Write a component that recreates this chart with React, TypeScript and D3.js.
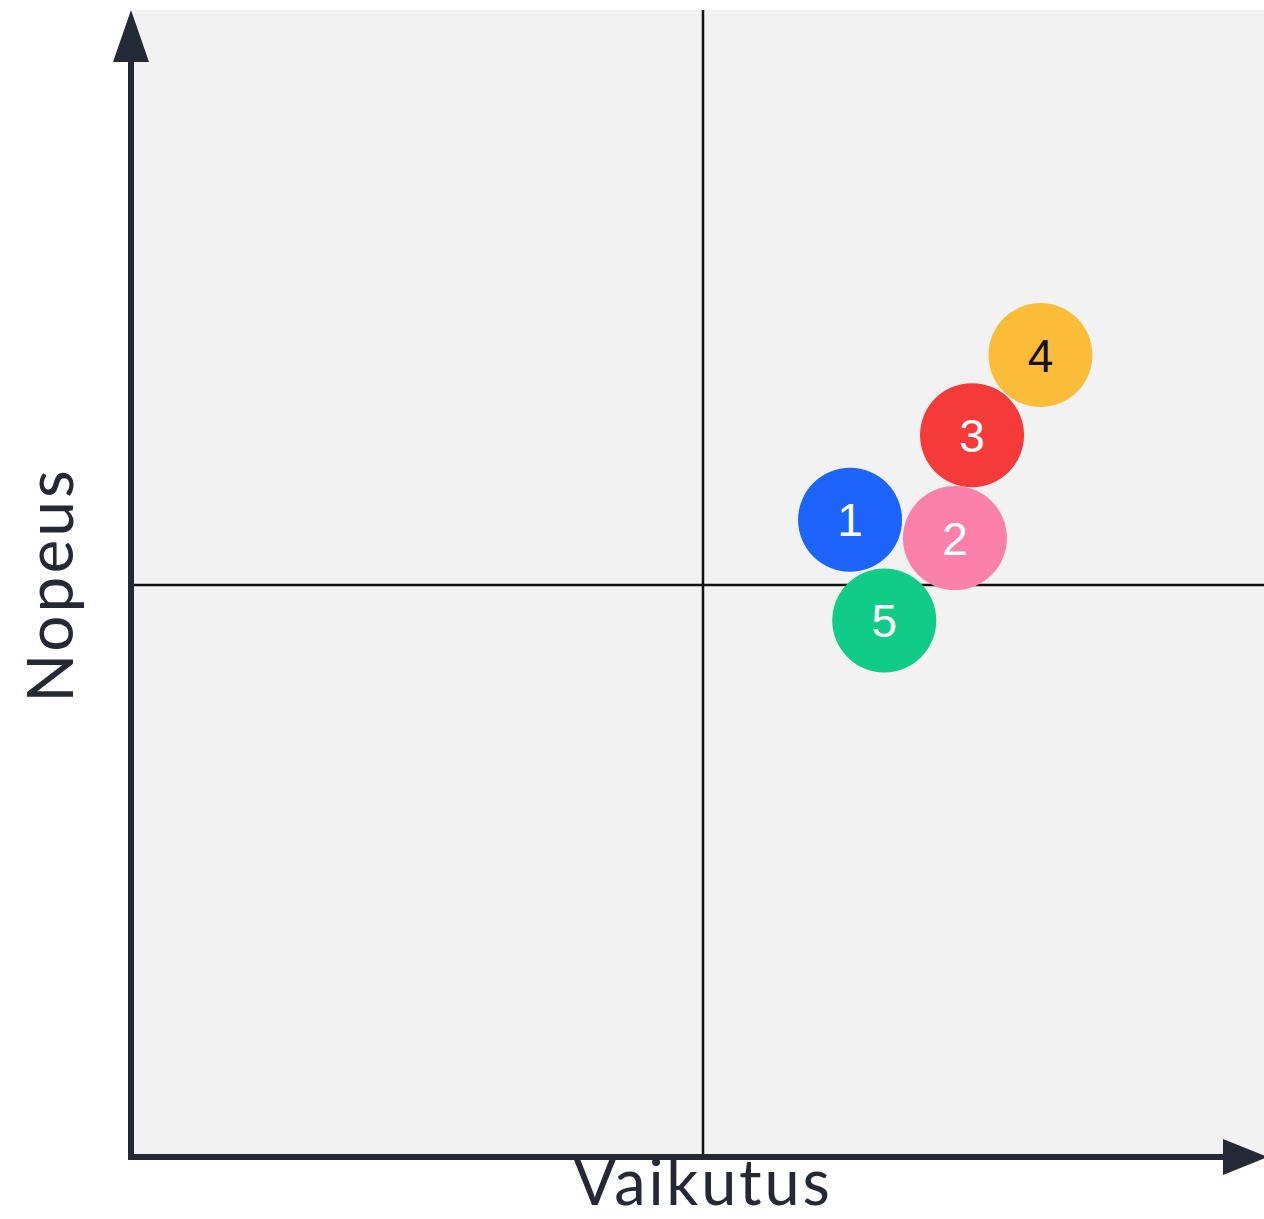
import React from "react";
import * as d3 from "d3";

// items on the impact / speed matrix
const ids = ["1", "2", "3", "4", "5"];
const impact = [6.29, 7.21, 7.36, 7.96, 6.59];
const speed = [5.57, 5.41, 6.31, 7.01, 4.69];
const fills = ["#1c64fa", "#fb80aa", "#f53a3a", "#fbbd39", "#10cc86"];
const textColors = ["#ffffff", "#ffffff", "#ffffff", "#111111", "#ffffff"];

const xLabel = "Vaikutus";
const yLabel = "Nopeus";

const W = 1264;
const H = 1219;
const left = 133;
const bottom = 1157;

export default function App() {
  const x = d3.scaleLinear().domain([0, 10]).range([left, 1273]);
  const y = d3.scaleLinear().domain([0, 10]).range([bottom, 13]);
  const axisColor = "#232a36";
  const r = 52;

  return (
    <svg
      width={W}
      height={H}
      style={{ position: "absolute", left: 0, top: 0, background: "#fff" }}
    >
      <rect x={left} y={10} width={W - left} height={bottom - 10} fill="#f2f2f2" />

      {/* quadrant dividers */}
      <line x1={x(5)} x2={x(5)} y1={10} y2={bottom} stroke="#111" strokeWidth={2.5} />
      <line x1={left} x2={W} y1={y(5)} y2={y(5)} stroke="#111" strokeWidth={2.5} />

      {/* axes */}
      <line x1={131} x2={131} y1={50} y2={bottom + 3} stroke={axisColor} strokeWidth={6} />
      <line x1={128} x2={1230} y1={bottom} y2={bottom} stroke={axisColor} strokeWidth={6} />
      <path d={`M131,10 L149,62 L113,62 Z`} fill={axisColor} />
      <path d={`M1268,${bottom} L1223,${bottom - 18} L1223,${bottom + 18} Z`} fill={axisColor} />

      {ids.map((id, i) => (
        <g key={id} transform={`translate(${x(impact[i])},${y(speed[i])})`}>
          <circle r={r} fill={fills[i]} />
          <text
            textAnchor="middle"
            dy="0.36em"
            fontFamily="Liberation Sans, Arial, sans-serif"
            fontSize={46}
            fill={textColors[i]}
          >
            {id}
          </text>
        </g>
      ))}

      <text
        x={x(5)}
        y={1205}
        textAnchor="middle"
        fontFamily="Lato, sans-serif"
        fontSize={63}
        letterSpacing={2.8}
        fill={axisColor}
      >
        {xLabel}
      </text>
      <text
        transform={`translate(73,${y(5)}) rotate(-90)`}
        textAnchor="middle"
        fontFamily="Lato, sans-serif"
        fontSize={64}
        letterSpacing={3}
        fill={axisColor}
      >
        {yLabel}
      </text>
    </svg>
  );
}
